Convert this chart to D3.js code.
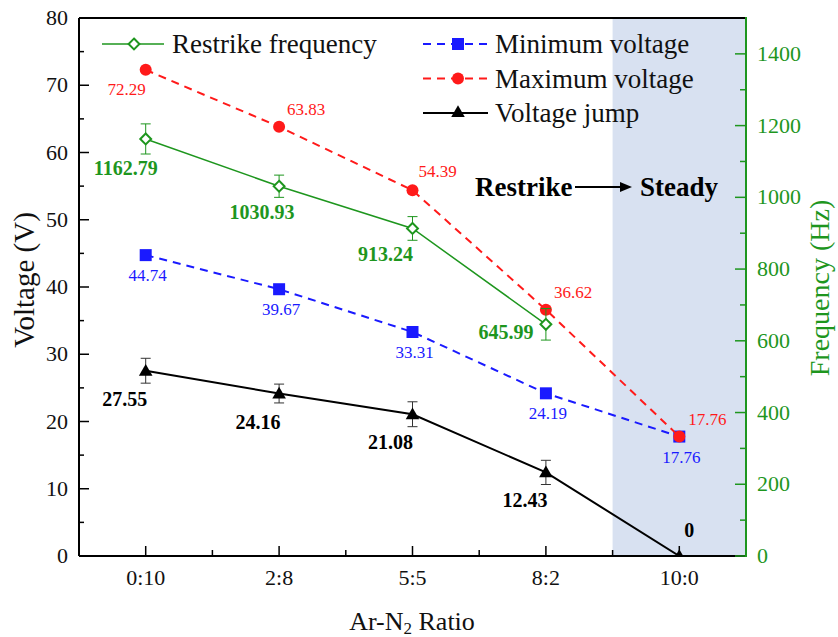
<!DOCTYPE html>
<html><head><meta charset="utf-8">
<script src="https://cdn.jsdelivr.net/npm/d3@7"></script>
<style>body{margin:0;background:#fff}svg{display:block}</style>
</head><body>
<svg id="c" width="838" height="637" font-family="'Times New Roman', 'Liberation Serif', Tinos, 'DejaVu Serif', serif"></svg>
<script>
const categories = ["0:10","2:8","5:5","8:2","10:0"];
const maxVoltage = [72.29,63.83,54.39,36.62,17.76];
const minVoltage = [44.74,39.67,33.31,24.19,17.76];
const voltageJump = [27.55,24.16,21.08,12.43,0];
const voltageJumpErr = [1.85,1.4,1.85,1.8,0];
const frequency = [1162.79,1030.93,913.24,645.99];
const frequencyErr = [42,31,33,44];
const leftTicks = [0,10,20,30,40,50,60,70,80];
const rightTicks = [0,200,400,600,800,1000,1200,1400];

const GREEN = "#1e961e", RED = "#ff1a1a", BLUE = "#1a1aff";
const svg = d3.select("#c");
const L = 79, R = 746, T = 18, B = 556;
const x = d3.scaleLinear().domain([-0.5, 4.5]).range([L, R]);
const y = d3.scaleLinear().domain([0, 80]).range([B, T]);
const y2 = d3.scaleLinear().domain([0, 1500]).range([B, T]);

svg.append("defs").append("clipPath").attr("id","plot")
  .append("rect").attr("x",L).attr("y",T).attr("width",R-L).attr("height",B-T);

// shaded steady region
svg.append("rect").attr("x", x(3.5)).attr("y", T).attr("width", R - x(3.5)).attr("height", B - T)
  .attr("fill", "#d8e1f1");

const g = svg.append("g").attr("clip-path","url(#plot)");
const idx = d => d3.range(d.length);

// Voltage jump
g.append("path").datum(idx(voltageJump)).attr("fill","none").attr("stroke","#000").attr("stroke-width",2)
  .attr("d", d3.line().x(i=>x(i)).y(i=>y(voltageJump[i])));
idx(voltageJump).forEach(i=>{
  if(!voltageJumpErr[i]) return;
  const y0=y(voltageJump[i]-voltageJumpErr[i]), y1=y(voltageJump[i]+voltageJumpErr[i]), cx=x(i);
  g.append("path").attr("d",`M${cx},${y0}V${y1}M${cx-5},${y0}H${cx+5}M${cx-5},${y1}H${cx+5}`)
   .attr("stroke","#333").attr("stroke-width",1).attr("fill","none");
});
g.selectAll(".tri").data(idx(voltageJump)).join("path")
  .attr("d", d3.symbol().type(d3.symbolTriangle).size(80))
  .attr("transform", i=>`translate(${x(i)},${y(voltageJump[i])+1})`).attr("fill","#000");

// Minimum voltage
g.append("path").datum(idx(minVoltage)).attr("fill","none").attr("stroke",BLUE).attr("stroke-width",2)
  .attr("stroke-dasharray","8,6").attr("d", d3.line().x(i=>x(i)).y(i=>y(minVoltage[i])));
g.selectAll(".sq").data(idx(minVoltage)).join("rect")
  .attr("x",i=>x(i)-6).attr("y",i=>y(minVoltage[i])-6).attr("width",12).attr("height",12).attr("fill",BLUE);

// Maximum voltage
g.append("path").datum(idx(maxVoltage)).attr("fill","none").attr("stroke",RED).attr("stroke-width",2)
  .attr("stroke-dasharray","8,6").attr("d", d3.line().x(i=>x(i)).y(i=>y(maxVoltage[i])));
g.selectAll(".ci").data(idx(maxVoltage)).join("circle")
  .attr("cx",i=>x(i)).attr("cy",i=>y(maxVoltage[i])).attr("r",6).attr("fill",RED);

// Frequency
g.append("path").datum(idx(frequency)).attr("fill","none").attr("stroke",GREEN).attr("stroke-width",1.5)
  .attr("d", d3.line().x(i=>x(i)).y(i=>y2(frequency[i])));
idx(frequency).forEach(i=>{
  const y0=y2(frequency[i]-frequencyErr[i]), y1=y2(frequency[i]+frequencyErr[i]), cx=x(i);
  g.append("path").attr("d",`M${cx},${y0}V${y1}M${cx-5},${y0}H${cx+5}M${cx-5},${y1}H${cx+5}`)
   .attr("stroke",GREEN).attr("stroke-width",1).attr("fill","none");
});
g.selectAll(".dm").data(idx(frequency)).join("path")
  .attr("d", d3.symbol().type(d3.symbolDiamond2).size(75))
  .attr("transform", i=>`translate(${x(i)},${y2(frequency[i])})`)
  .attr("fill","#fff").attr("stroke",GREEN).attr("stroke-width",2);

// data labels
const lab = svg.append("g");
const redOff = [[-19,25,"middle"],[8,-12,"start"],[6,-13,"start"],[8,-12,"start"],[9,-12,"start"]];
maxVoltage.forEach((v,i)=>lab.append("text").attr("x",x(i)+redOff[i][0]).attr("y",y(v)+redOff[i][1])
  .attr("text-anchor",redOff[i][2]).attr("font-size",17).attr("fill",RED).text(v.toFixed(2)));
minVoltage.forEach((v,i)=>lab.append("text").attr("x",x(i)+2).attr("y",y(v)+26)
  .attr("text-anchor","middle").attr("font-size",17).attr("fill",BLUE).text(v.toFixed(2)));
const grOff = [[-20,36],[-17,33],[-27,33],[-40,15]];
frequency.forEach((v,i)=>lab.append("text").attr("x",x(i)+grOff[i][0]).attr("y",y2(v)+grOff[i][1])
  .attr("text-anchor","middle").attr("font-size",20).attr("font-weight","bold").attr("fill",GREEN).text(v.toFixed(2)));
const bkOff = [[-21,35],[-21,35],[-22,35],[-21,35],[10,-19]];
voltageJump.forEach((v,i)=>lab.append("text").attr("x",x(i)+bkOff[i][0]).attr("y",y(v)+bkOff[i][1])
  .attr("text-anchor","middle").attr("font-size",20).attr("font-weight","bold").attr("fill","#000")
  .text(v===0?"0":v.toFixed(2)));

// Restrike -> Steady annotation
svg.append("text").attr("x",475).attr("y",196).attr("font-size",27).attr("font-weight","bold").text("Restrike");
svg.append("text").attr("x",640).attr("y",196).attr("font-size",27).attr("font-weight","bold").text("Steady");
svg.append("line").attr("x1",575).attr("x2",622).attr("y1",187).attr("y2",187).attr("stroke","#000").attr("stroke-width",2);
svg.append("path").attr("d","M632,187L620,182L620,192Z").attr("fill","#000");

// axes
const ax = svg.append("g");
ax.append("line").attr("x1",L).attr("x2",L).attr("y1",T).attr("y2",B).attr("stroke","#000").attr("stroke-width",2);
ax.append("line").attr("x1",L).attr("x2",R).attr("y1",T).attr("y2",T).attr("stroke","#000").attr("stroke-width",2);
ax.append("line").attr("x1",L).attr("x2",R).attr("y1",B).attr("y2",B).attr("stroke","#000").attr("stroke-width",2);
d3.range(0,81,5).forEach(v=>{
  const major = v%10===0;
  ax.append("line").attr("x1",L).attr("x2",L+(major?10:5)).attr("y1",y(v)).attr("y2",y(v)).attr("stroke","#000").attr("stroke-width",1.5);
});
leftTicks.forEach(v=>ax.append("text").attr("x",L-11).attr("y",y(v)+7).attr("text-anchor","end")
  .attr("font-size",22).attr("fill","#111").text(v));
d3.range(0,4.01,0.5).forEach(v=>{
  const major = Number.isInteger(v);
  ax.append("line").attr("x1",x(v)).attr("x2",x(v)).attr("y1",B).attr("y2",B-(major?10:6)).attr("stroke","#000").attr("stroke-width",1.5);
});
categories.forEach((c,i)=>ax.append("text").attr("x",x(i)).attr("y",585).attr("text-anchor","middle")
  .attr("font-size",22).attr("fill","#111").text(c));
ax.append("line").attr("x1",R).attr("x2",R).attr("y1",T-1).attr("y2",B+1).attr("stroke",GREEN).attr("stroke-width",2);
d3.range(0,1401,100).forEach(v=>{
  const major = v%200===0;
  ax.append("line").attr("x1",R).attr("x2",R-(major?11:6)).attr("y1",y2(v)).attr("y2",y2(v)).attr("stroke",GREEN).attr("stroke-width",1.5);
});
rightTicks.forEach(v=>ax.append("text").attr("x",R+11).attr("y",y2(v)+7).attr("text-anchor","start")
  .attr("font-size",22).attr("fill",GREEN).text(v));

// axis titles
svg.append("text").attr("transform","translate(34,280) rotate(-90)").attr("text-anchor","middle")
  .attr("font-size",29).attr("fill","#111").text("Voltage (V)");
svg.append("text").attr("transform","translate(829,288) rotate(-90)").attr("text-anchor","middle")
  .attr("font-size",28).attr("fill",GREEN).text("Frequency (Hz)");
const xt = svg.append("text").attr("x",412).attr("y",630).attr("text-anchor","middle").attr("font-size",26).attr("fill","#111");
xt.append("tspan").text("Ar-N");
xt.append("tspan").attr("font-size",17).attr("dy",4).text("2");
xt.append("tspan").attr("dy",-4).text(" Ratio");

// legend
const lg = svg.append("g");
const legendItems = [
  {name:"Restrike frequency", col:0, row:0},
  {name:"Minimum voltage", col:1, row:0},
  {name:"Maximum voltage", col:1, row:1},
  {name:"Voltage jump", col:1, row:2}
];
const colX = [[102,164,134,172],[423,488,458,495]];
legendItems.forEach((it,k)=>{
  const [x1,x2,mx,tx] = colX[it.col];
  const yy = 44 + it.row*34.5;
  const gi = lg.append("g");
  if(k===0){
    gi.append("line").attr("x1",x1).attr("x2",x2).attr("y1",yy).attr("y2",yy).attr("stroke",GREEN).attr("stroke-width",1.5);
    gi.append("path").attr("d",d3.symbol().type(d3.symbolDiamond2).size(75)).attr("transform",`translate(${mx},${yy})`)
      .attr("fill","#fff").attr("stroke",GREEN).attr("stroke-width",2);
  } else if(k===1){
    gi.append("line").attr("x1",x1).attr("x2",x2).attr("y1",yy).attr("y2",yy).attr("stroke",BLUE).attr("stroke-width",2).attr("stroke-dasharray","8,6");
    gi.append("rect").attr("x",mx-6).attr("y",yy-6).attr("width",12).attr("height",12).attr("fill",BLUE);
  } else if(k===2){
    gi.append("line").attr("x1",x1).attr("x2",x2).attr("y1",yy).attr("y2",yy).attr("stroke",RED).attr("stroke-width",2).attr("stroke-dasharray","8,6");
    gi.append("circle").attr("cx",mx).attr("cy",yy).attr("r",6).attr("fill",RED);
  } else {
    gi.append("line").attr("x1",x1).attr("x2",x2).attr("y1",yy).attr("y2",yy).attr("stroke","#000").attr("stroke-width",2);
    gi.append("path").attr("d",d3.symbol().type(d3.symbolTriangle).size(80)).attr("transform",`translate(${mx},${yy})`).attr("fill","#000");
  }
  gi.append("text").attr("x",tx).attr("y",yy+9).attr("font-size",27).attr("fill","#111").text(it.name);
});
</script>
</body></html>
